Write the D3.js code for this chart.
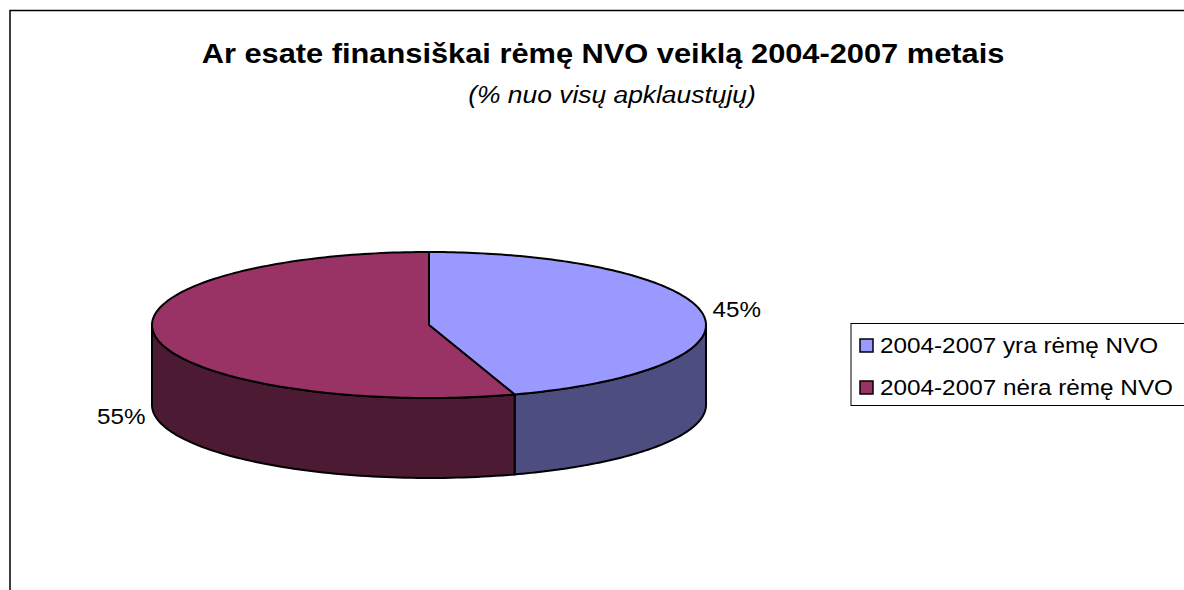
<!DOCTYPE html>
<html>
<head>
<meta charset="utf-8">
<script src="https://cdn.jsdelivr.net/npm/d3@7"></script>
<style>
  html, body { margin: 0; padding: 0; background: #fff; }
  svg { display: block; }
  text { font-family: "Liberation Sans", Arial, sans-serif; fill: #000; }
</style>
</head>
<body>
<svg id="chart" width="1184" height="590"></svg>
<script>
// ---- data ----
const categories = ["2004-2007 yra rėmę NVO", "2004-2007 nėra rėmę NVO"];
const values = [45, 55];
const labels = ["45%", "55%"];
const titleText = "Ar esate finansiškai rėmę NVO veiklą 2004-2007 metais";
const subtitleText = "(% nuo visų apklaustųjų)";

// ---- styles ----
const topColors = ["#9999FF", "#993366"];
const sideColors = ["#4D4D80", "#4C1A33"];
const SX = 1.1; // horizontal text stretch

const svg = d3.select("#chart");
svg.append("rect").attr("x", 0).attr("y", 0).attr("width", 1184).attr("height", 590).attr("fill", "#fff");
svg.append("rect").attr("x", 10).attr("y", 10.5).attr("width", 1200).attr("height", 620)
  .attr("fill", "#fff").attr("stroke", "#000").attr("stroke-width", 1.5);

function stretchedText(x, y, str, opts) {
  const g = svg.append("g").attr("transform", `translate(${x},${y}) scale(${opts.sx || SX},1)`);
  const t = g.append("text").attr("x", 0).attr("y", 0).text(str)
    .attr("font-size", opts.size)
    .attr("text-anchor", opts.anchor || "start");
  if (opts.weight) t.attr("font-weight", opts.weight);
  if (opts.style) t.attr("font-style", opts.style);
  return t;
}

// titles
stretchedText(603, 63, titleText, {size: 28, weight: "bold", anchor: "middle"});
stretchedText(612, 103, subtitleText, {size: 24, style: "italic", anchor: "middle"});

// ---- 3D pie ----
const cx = 429, cy = 325, rx = 277, ry = 73, depth = 80;
const pie = d3.pie().sort(null).value(d => d)(values);
const px = a => cx + rx * Math.sin(a);
const py = a => cy - ry * Math.cos(a);

const gPie = svg.append("g");
// side walls (visible front part: angles between PI/2 and 3PI/2)
pie.forEach((s, i) => {
  const a0 = Math.max(s.startAngle, Math.PI / 2);
  const a1 = Math.min(s.endAngle, 3 * Math.PI / 2);
  if (a1 <= a0) return;
  const p = d3.path();
  p.moveTo(px(a0), py(a0));
  const n = 80;
  for (let k = 1; k <= n; k++) { const a = a0 + (a1 - a0) * k / n; p.lineTo(px(a), py(a)); }
  for (let k = n; k >= 0; k--) { const a = a0 + (a1 - a0) * k / n; p.lineTo(px(a), py(a) + depth); }
  p.closePath();
  gPie.append("path").attr("d", p.toString())
    .attr("fill", sideColors[i]).attr("stroke", "#000").attr("stroke-width", 2).attr("stroke-linejoin", "round");
});
// top faces
pie.forEach((s, i) => {
  const p = d3.path();
  p.moveTo(cx, cy);
  p.lineTo(px(s.startAngle), py(s.startAngle));
  const n = 160;
  for (let k = 1; k <= n; k++) { const a = s.startAngle + (s.endAngle - s.startAngle) * k / n; p.lineTo(px(a), py(a)); }
  p.closePath();
  gPie.append("path").attr("d", p.toString())
    .attr("fill", topColors[i]).attr("stroke", "#000").attr("stroke-width", 2).attr("stroke-linejoin", "round");
});

// data labels
pie.forEach((s, i) => {
  const mid = (s.startAngle + s.endAngle) / 2;
  const right = Math.sin(mid) >= 0;
  const front = Math.cos(mid) < 0 && !right;
  const x = px(mid) + (right ? 10 : -10);
  const y = py(mid) + (front ? depth + 5 : 0) + 3;
  stretchedText(x, y, labels[i], {size: 22, anchor: right ? "start" : "end"});
});

// ---- legend ----
const lg = svg.append("g");
lg.append("rect").attr("x", 851).attr("y", 323.5).attr("width", 400).attr("height", 82)
  .attr("fill", "#fff").attr("stroke", "#000").attr("stroke-width", 1);
categories.forEach((c, i) => {
  const y = 339 + i * 42;
  lg.append("rect").attr("x", 860).attr("y", y).attr("width", 13).attr("height", 13)
    .attr("fill", topColors[i]).attr("stroke", "#000").attr("stroke-width", 1.5);
  stretchedText(880, y + 14, c, {size: 22.5, sx: 1.08});
});
</script>
</body>
</html>
